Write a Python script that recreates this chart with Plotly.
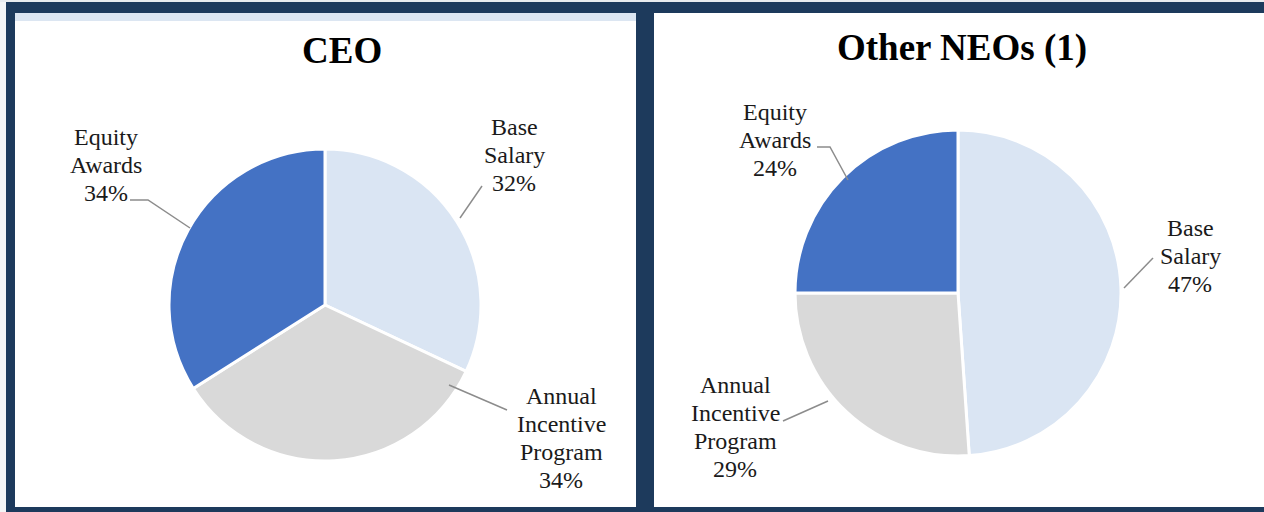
import plotly.graph_objects as go

# ---------------- data ----------------
categories = ["Base Salary", "Annual Incentive Program", "Equity Awards"]
ceo_pct = [32, 34, 34]
neo_pct = [47, 29, 24]
# slice shares as drawn in the picture for Other NEOs
neo_share = [48.9, 26.1, 25.0]
panel_titles = ["CEO", "Other NEOs (1)"]

colors = ["#dae5f3", "#d9d9d9", "#4472c4"]
NAVY = "#1d3a5c"
SERIF = "Liberation Serif, Times New Roman, serif"
W, H = 1264, 512


def px(x):
    return x / W


def py(y):
    return 1 - y / H


fig = go.Figure()

# pies
fig.add_trace(go.Pie(
    labels=categories, values=ceo_pct, sort=False, direction="clockwise", rotation=0,
    marker=dict(colors=colors, line=dict(color="white", width=3)),
    textinfo="none", hoverinfo="label+percent", showlegend=False,
    domain=dict(x=[px(169), px(481)], y=[py(461), py(149)]),
))
fig.add_trace(go.Pie(
    labels=categories, values=neo_share, sort=False, direction="clockwise", rotation=0,
    marker=dict(colors=colors, line=dict(color="white", width=3)),
    textinfo="none", hoverinfo="label", showlegend=False,
    domain=dict(x=[px(795), px(1121)], y=[py(456), py(130)]),
))

shapes = []
# panels
shapes.append(dict(type="rect", xref="paper", yref="paper", x0=px(0), x1=px(6), y0=py(512), y1=py(0),
                   fillcolor="#f4f5f6", line=dict(width=0), layer="below"))
shapes.append(dict(type="rect", xref="paper", yref="paper", x0=px(15), x1=px(636), y0=py(507), y1=py(13),
                   fillcolor="white", line=dict(width=0), layer="below"))
shapes.append(dict(type="rect", xref="paper", yref="paper", x0=px(15), x1=px(636), y0=py(21), y1=py(13),
                   fillcolor="#dce6f2", line=dict(width=0), layer="below"))
shapes.append(dict(type="rect", xref="paper", yref="paper", x0=px(654), x1=px(1264), y0=py(507), y1=py(13),
                   fillcolor="white", line=dict(width=0), layer="below"))
shapes.append(dict(type="rect", xref="paper", yref="paper", x0=px(0), x1=px(1264), y0=py(2), y1=py(0),
                   fillcolor="#e8ebee", line=dict(width=0), layer="below"))

# leader lines (label position layout)
leaders = [
    [(130, 200), (148, 200), (190, 228)],
    [(482, 186), (460, 218)],
    [(449, 385), (507, 410)],
    [(817, 147), (830, 147), (848, 180)],
    [(1153, 258), (1124, 288)],
    [(783, 421), (828, 401)],
]
for pts in leaders:
    path = "M " + " L ".join(f"{px(x)},{py(y)}" for x, y in pts)
    shapes.append(dict(type="path", xref="paper", yref="paper", path=path,
                       line=dict(color="#8c8c8c", width=1.5)))

annotations = []
# titles
title_pos = [(342, 50), (962, 48)]
for t, (x, y) in zip(panel_titles, title_pos):
    annotations.append(dict(text=f"<b>{t}</b>", x=px(x), y=py(y), xref="paper", yref="paper",
                            showarrow=False, xanchor="center", yanchor="middle",
                            font=dict(family=SERIF, size=37, color="#000000")))

# slice labels: (center x, first line center y)
ceo_label_pos = [(514, 127), (561, 396), (106, 137)]
neo_label_pos = [(1190, 228), (735, 385), (775, 112)]
LINE = 28
for pcts, poss in [(ceo_pct, ceo_label_pos), (neo_pct, neo_label_pos)]:
    for cat, p, (x, y) in zip(categories, pcts, poss):
        lines = cat.split(" ") + [f"{p}%"]
        for i, ln in enumerate(lines):
            annotations.append(dict(text=ln, x=px(x), y=py(y + i * LINE), xref="paper", yref="paper",
                                    showarrow=False, xanchor="center", yanchor="middle",
                                    font=dict(family=SERIF, size=24, color="#1a1a1a")))

fig.update_layout(
    width=W, height=H, margin=dict(l=0, r=0, t=0, b=0),
    paper_bgcolor=NAVY, plot_bgcolor=NAVY,
    font=dict(family=SERIF),
    shapes=shapes, annotations=annotations,
)

fig.write_html(
    "out.html",
    config={"displayModeBar": False},
    post_script="document.body.style.margin='0';document.body.style.overflow='hidden';",
)
